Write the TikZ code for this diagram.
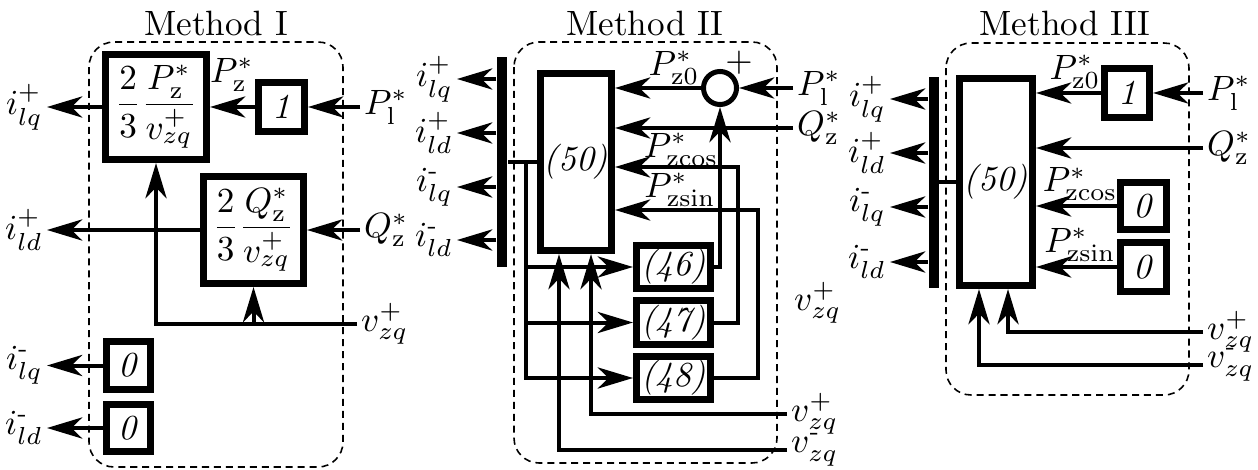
\documentclass[tikz,border=0pt]{standalone}
\usepackage{amsmath}
\usetikzlibrary{arrows.meta}

\begin{document}
\begin{tikzpicture}[
    x=0.01cm,
    y=-0.01cm,
    font=\normalsize,
    blk/.style={draw, line width=0.07cm, inner sep=0pt},
    sumnode/.style={draw, circle, line width=0.05cm, minimum size=0.33cm, inner sep=0pt},
    busbar/.style={fill=black, inner sep=0pt, minimum width=0.1cm},
    sig/.style={line width=0.04cm, -{Stealth[length=10pt, width=6pt, inset=3pt]}},
    wire/.style={line width=0.04cm},
    group/.style={draw, dash pattern=on 2pt off 1.4pt, line width=0.45pt, rounded corners=0.25cm},
    lbl/.style={inner sep=1pt}
]
\path[use as bounding box] (0,0) rectangle (1258,470);

% Method I: two gain blocks and two zero blocks
\node (titleI) at (216,23) {Method I};
\draw[group] (89,42) rectangle (343,467);
\node[blk, minimum width=1.01cm, minimum height=1.05cm] (gainPI) at (156,107)
    {$\dfrac{2}{3}\dfrac{P_\mathrm{z}^*}{v_{zq}^+}$};
\node[blk, minimum width=0.46cm, minimum height=0.49cm] (oneI) at (281.5,107) {\textit{1}};
\node[blk, minimum width=1.00cm, minimum height=1.07cm] (gainQI) at (253.5,230)
    {$\dfrac{2}{3}\dfrac{Q_\mathrm{z}^*}{v_{zq}^+}$};
\node[blk, minimum width=0.44cm, minimum height=0.48cm] (zeroqI) at (128.5,365.5) {\textit{0}};
\node[blk, minimum width=0.44cm, minimum height=0.47cm] (zerodI) at (128.5,428) {\textit{0}};

\coordinate (PlI) at (360,107);
\coordinate (QzI) at (360,230);
\coordinate (vI) at (357,324);
\coordinate (ilqpI) at (47,107);
\coordinate (ildpI) at (47,230);
\coordinate (ilqmI) at (47,365.5);
\coordinate (ildmI) at (47,428);

\draw[sig] (PlI) -- (oneI.east);
\draw[sig] (oneI.west) -- (gainPI.east);
\draw[sig] (gainPI.west) -- (ilqpI);
\draw[sig] (QzI) -- (gainQI.east);
\draw[sig] (gainQI.west) -- (ildpI);
\draw[sig] (vI) -| (gainPI.south);
\draw[sig] (vI -| gainQI.south) -- (gainQI.south);
\draw[sig] (zeroqI.west) -- (ilqmI);
\draw[sig] (zerodI.west) -- (ildmI);

\node[lbl] (PzI) at (232,75) {$P_\mathrm{z}^*$};
\node[lbl, anchor=west] (PlIlab) at (PlI) {$P_\mathrm{l}^*$};
\node[lbl, anchor=west] (QzIlab) at (QzI) {$Q_\mathrm{z}^*$};
\node[lbl, anchor=west] (vIlab) at (vI) {$v_{zq}^+$};
\node[lbl, anchor=east] (ilqpIlab) at (ilqpI) {$i_{lq}^+$};
\node[lbl, anchor=east] (ildpIlab) at (ildpI) {$i_{ld}^+$};
\node[lbl, anchor=east] (ilqmIlab) at (ilqmI) {$i_{lq}^{\text{-}}$};
\node[lbl, anchor=east] (ildmIlab) at (ildmI) {$i_{ld}^{\text{-}}$};

% Method II: block (50) fed back through (46)-(48)
\node (titleII) at (645,23) {Method II};
\draw[group] (514,42) rectangle (777,463);
\node[busbar, minimum height=2.1cm] (busII) at (502,162) {};
\node[blk, minimum width=0.71cm, minimum height=1.77cm] (mainII) at (576,162) {\textit{(50)}};
\node[sumnode] (sumII) at (720,88) {};
\node[lbl] (plusII) at (739,63) {$+$};
\node[blk, minimum width=0.74cm, minimum height=0.43cm] (rel46) at (673.5,267) {\textit{(46)}};
\node[blk, minimum width=0.74cm, minimum height=0.43cm] (rel47) at (673.5,322.5) {\textit{(47)}};
\node[blk, minimum width=0.74cm, minimum height=0.43cm] (rel48) at (673.5,378) {\textit{(48)}};

\coordinate (PlII) at (793,88);
\coordinate (QzII) at (793,128);
\coordinate (cosII) at (738,167);
\coordinate (sinII) at (758,210);
\coordinate (splitII) at (526,162);
\coordinate (vpII) at (787,414);
\coordinate (vmII) at (787,450);
\coordinate (ilqpII) at (457,79);
\coordinate (ildpII) at (457,133);
\coordinate (ilqmII) at (457,187);
\coordinate (ildmII) at (457,240);

\draw[sig] (PlII) -- (sumII.east);
\draw[sig] (sumII.west) -- (sumII.west -| mainII.east);
\draw[sig] (QzII) -- (QzII -| mainII.east);
\draw[sig] (rel46.east) -| (sumII.south);
\draw[sig] (rel47.east) -| (cosII) -- (cosII -| mainII.east);
\draw[sig] (rel48.east) -| (sinII) -- (sinII -| mainII.east);
\draw[wire] (mainII.west) -- (mainII.west -| busII.east);
\draw[sig] (splitII) |- (rel48.west);
\draw[sig] (splitII |- rel46.west) -- (rel46.west);
\draw[sig] (splitII |- rel47.west) -- (rel47.west);
\draw[sig] (vpII) -| ([xshift=0.15cm]mainII.south);
\draw[sig] (vmII) -| ([xshift=-0.17cm]mainII.south);
\foreach \name in {ilqpII,ildpII,ilqmII,ildmII}
    \draw[sig] (busII.west |- \name) -- (\name);

\node[lbl] (Pz0II) at (674,68) {$P_\mathrm{z0}^*$};
\node[lbl] (PcosII) at (681,150) {$P_\mathrm{zcos}^*$};
\node[lbl] (PsinII) at (680,190) {$P_\mathrm{zsin}^*$};
\node[lbl, anchor=west] (PlIIlab) at (PlII) {$P_\mathrm{l}^*$};
\node[lbl, anchor=west] (QzIIlab) at (QzII) {$Q_\mathrm{z}^*$};
\node[lbl, anchor=west] (vfreeII) at (790,303) {$v_{zq}^+$};
\node[lbl, anchor=west] (vpIIlab) at (vpII) {$v_{zq}^+$};
\node[lbl, anchor=west] (vmIIlab) at (vmII) {$v_{zq}^{\text{-}}$};
\node[lbl, anchor=east] (ilqpIIlab) at (ilqpII) {$i_{lq}^+$};
\node[lbl, anchor=east] (ildpIIlab) at (ildpII) {$i_{ld}^+$};
\node[lbl, anchor=east] (ilqmIIlab) at (ilqmII) {$i_{lq}^{\text{-}}$};
\node[lbl, anchor=east] (ildmIIlab) at (ildmII) {$i_{ld}^{\text{-}}$};

% Method III: block (50) with constant references
\node (titleIII) at (1065,23) {Method III};
\draw[group] (946,43) rectangle (1189,395);
\node[busbar, minimum height=2.11cm] (busIII) at (933.5,182.5) {};
\node[blk, minimum width=0.73cm, minimum height=2.07cm] (mainIII) at (996,182) {\textit{(50)}};
\node[blk, minimum width=0.45cm, minimum height=0.48cm] (oneIII) at (1127,93) {\textit{1}};
\node[blk, minimum width=0.46cm, minimum height=0.47cm] (zerocIII) at (1143.5,206) {\textit{0}};
\node[blk, minimum width=0.46cm, minimum height=0.48cm] (zerosIII) at (1143.5,267) {\textit{0}};

\coordinate (PlIII) at (1203,93);
\coordinate (QzIII) at (1203,148);
\coordinate (vpIII) at (1203,332);
\coordinate (vmIII) at (1203,365);
\coordinate (ilqpIII) at (890,99);
\coordinate (ildpIII) at (890,153);
\coordinate (ilqmIII) at (890,207);
\coordinate (ildmIII) at (890,262);

\draw[sig] (PlIII) -- (oneIII.east);
\draw[sig] (oneIII.west) -- (oneIII.west -| mainIII.east);
\draw[sig] (QzIII) -- (QzIII -| mainIII.east);
\draw[sig] (zerocIII.west) -- (zerocIII.west -| mainIII.east);
\draw[sig] (zerosIII.west) -- (zerosIII.west -| mainIII.east);
\draw[wire] (mainIII.west) -- (mainIII.west -| busIII.east);
\draw[sig] (vpIII) -| ([xshift=0.12cm]mainIII.south);
\draw[sig] (vmIII) -| ([xshift=-0.17cm]mainIII.south);
\foreach \name in {ilqpIII,ildpIII,ilqmIII,ildmIII}
    \draw[sig] (busIII.west |- \name) -- (\name);

\node[lbl] (Pz0III) at (1075,72) {$P_\mathrm{z0}^*$};
\node[lbl] (PcosIII) at (1080,184) {$P_\mathrm{zcos}^*$};
\node[lbl] (PsinIII) at (1080,245) {$P_\mathrm{zsin}^*$};
\node[lbl, anchor=west] (PlIIIlab) at (PlIII) {$P_\mathrm{l}^*$};
\node[lbl, anchor=west] (QzIIIlab) at (QzIII) {$Q_\mathrm{z}^*$};
\node[lbl, anchor=west] (vpIIIlab) at (vpIII) {$v_{zq}^+$};
\node[lbl, anchor=west] (vmIIIlab) at (vmIII) {$v_{zq}^{\text{-}}$};
\node[lbl, anchor=east] (ilqpIIIlab) at (ilqpIII) {$i_{lq}^+$};
\node[lbl, anchor=east] (ildpIIIlab) at (ildpIII) {$i_{ld}^+$};
\node[lbl, anchor=east] (ilqmIIIlab) at (ilqmIII) {$i_{lq}^{\text{-}}$};
\node[lbl, anchor=east] (ildmIIIlab) at (ildmIII) {$i_{ld}^{\text{-}}$};
\end{tikzpicture}
\end{document}
